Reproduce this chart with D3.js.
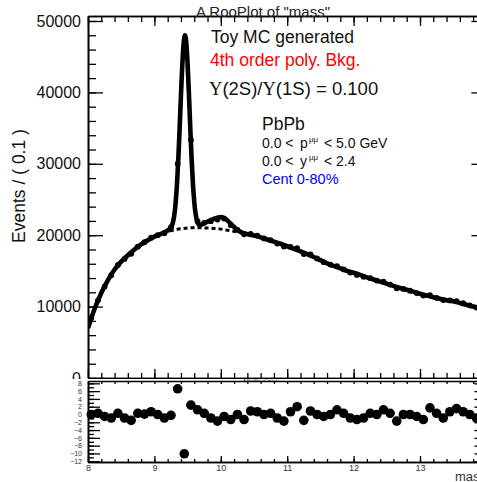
<!DOCTYPE html>
<html>
<head>
<meta charset="utf-8">
<script src="https://cdn.jsdelivr.net/npm/d3@7"></script>
<style>
  body { margin: 0; background: #fff; }
  svg { display: block; font-family: "Liberation Sans", Arial, sans-serif; }
</style>
</head>
<body>
<svg id="chart" width="477" height="482"></svg>
<script>
// bin centres (width 0.1) and toy MC counts
const massBins = [8.05, 8.15, 8.25, 8.35, 8.45, 8.55, 8.65, 8.75, 8.85, 8.95,
  9.05, 9.15, 9.25, 9.35, 9.45, 9.55, 9.65, 9.75, 9.85, 9.95,
  10.05, 10.15, 10.25, 10.35, 10.45, 10.55, 10.65, 10.75, 10.85, 10.95,
  11.05, 11.15, 11.25, 11.35, 11.45, 11.55, 11.65, 11.75, 11.85, 11.95,
  12.05, 12.15, 12.25, 12.35, 12.45, 12.55, 12.65, 12.75, 12.85, 12.95,
  13.05, 13.15, 13.25, 13.35, 13.45, 13.55, 13.65, 13.75, 13.85, 13.95];
const counts = [8450, 10880, 12790, 14390, 15840, 16680, 17400, 18390, 19010, 19650,
  20000, 20270, 21120, 30020, 45200, 33340, 21980, 21740, 21970, 22200,
  22330, 21410, 20750, 20120, 20180, 19950, 19550, 19290, 18830, 18400,
  18370, 18200, 17350, 17300, 16750, 16220, 15880, 15680, 15220, 14770,
  14440, 14170, 13990, 13650, 13490, 13080, 12560, 12480, 12230, 11900,
  11540, 11610, 11230, 10910, 10870, 10770, 10470, 10180, 9860, 9750];
const pulls = [0, 0.3, -0.5, -0.9, 0.3, -0.9, -1.5, 0.3, 0.1, 0.7,
  0, -0.9, -0.2, 6.6, -10.1, 2.4, 1.2, 0.3, -0.9, -1.7,
  -0.5, -1.3, 0, -1.3, 0.9, 0.7, 0, 0.3, -0.9, -1.7,
  0.7, 2.0, -1.5, 0.9, 0, -0.5, 0, 1.2, 0.3, -0.9,
  -1.3, -0.9, 0.3, 0, 1.2, 0.3, -1.7, 0, 0, -0.5,
  -1.3, 1.7, 0.3, -0.9, 0.7, 1.5, 0.7, 0, -0.9, 0];

// total fit curve (signal + bkg)
const totalX = [8.0, 8.1, 8.2, 8.3, 8.4, 8.5, 8.6, 8.7, 8.8, 8.9, 9.0, 9.1, 9.16, 9.22, 9.26, 9.28,
  9.30, 9.32, 9.34, 9.36, 9.38, 9.40, 9.42, 9.44, 9.46, 9.48, 9.50, 9.52, 9.54, 9.56, 9.58, 9.60,
  9.62, 9.64, 9.66, 9.70, 9.75, 9.80, 9.85, 9.90, 9.95, 10.00, 10.05, 10.10, 10.15, 10.20, 10.25,
  10.30, 10.40, 10.5, 10.6, 10.7, 10.8, 10.9, 11.0, 11.1, 11.2, 11.3, 11.4, 11.5, 11.6, 11.7, 11.8,
  11.9, 12.0, 12.1, 12.2, 12.3, 12.4, 12.5, 12.6, 12.7, 12.8, 12.9, 13.0, 13.1, 13.2, 13.3, 13.4,
  13.5, 13.6, 13.7, 13.8, 13.9, 14.0];
const totalY = [7000, 9700, 11900, 13700, 15200, 16300, 17200, 18000, 18700, 19300, 19800, 20200, 20450, 20800, 21250, 21800,
  22850, 24550, 27150, 30650, 34950, 39600, 43800, 46800, 48000, 46950, 43950, 39750, 35100, 30750, 27250, 24700,
  23050, 22050, 21550, 21450, 21700, 21900, 22100, 22300, 22450, 22550, 22400, 22050, 21600, 21150, 20750,
  20450, 20150, 19950, 19700, 19400, 19100, 18800, 18450, 18100, 17750, 17350, 16950, 16500, 16050, 15700, 15350,
  15000, 14750, 14450, 14100, 13800, 13500, 13200, 12900, 12600, 12350, 12100, 11800, 11550, 11300, 11100, 10900,
  10750, 10500, 10250, 10000, 9780, 9560];

// 4th order poly background (dashed)
const bkgX = [8.0, 8.1, 8.2, 8.3, 8.4, 8.5, 8.6, 8.7, 8.8, 8.9, 9.0, 9.1, 9.2, 9.3, 9.4, 9.5, 9.6, 9.7, 9.8, 9.9,
  10.0, 10.1, 10.2, 10.3, 10.4, 10.5, 10.6, 10.7, 10.8, 10.9, 11.0, 11.1, 11.2, 11.3, 11.4, 11.5, 11.6, 11.7, 11.8, 11.9,
  12.0, 12.1, 12.2, 12.3, 12.4, 12.5, 12.6, 12.7, 12.8, 12.9, 13.0, 13.1, 13.2, 13.3, 13.4, 13.5, 13.6, 13.7, 13.8, 13.9, 14.0];
const bkgY = [7000, 9700, 11900, 13700, 15200, 16300, 17200, 18000, 18700, 19300, 19800, 20200, 20500, 20750, 20900, 21000, 21050, 21050, 21000, 20950,
  20850, 20700, 20550, 20350, 20150, 19950, 19700, 19400, 19100, 18800, 18450, 18100, 17750, 17350, 16950, 16500, 16050, 15700, 15350, 15000,
  14750, 14450, 14100, 13800, 13500, 13200, 12900, 12600, 12350, 12100, 11800, 11550, 11300, 11100, 10900, 10750, 10500, 10250, 10000, 9780, 9560];

const yTicks = [0, 10000, 20000, 30000, 40000, 50000];
const pullTicks = [8, 6, 4, 2, 0, -2, -4, -6, -8, -10, -12];
const massTicks = [8, 9, 10, 11, 12, 13];

const svg = d3.select("#chart");

// scales
const x = d3.scaleLinear().domain([8, 14]).range([88, 486.4]);
const y = d3.scaleLinear().domain([0, 50700]).range([378, 16]);
const yp = d3.scaleLinear().domain([-12.2, 8.6]).range([462, 381]);

function styleAxis(g, w) {
  g.selectAll("path.domain").attr("stroke", "#000").attr("stroke-width", w || 1.6);
  g.selectAll(".tick line").attr("stroke", "#000").attr("stroke-width", 1.3);
}

// ---- main pad ----
const main = svg.append("g");

main.append("defs").append("clipPath").attr("id", "mainclip")
  .append("rect").attr("x", 88).attr("y", 16).attr("width", 398.4).attr("height", 362);

// axes
const minorY = d3.range(0, 50701, 2000);
const minorX = d3.range(8, 14.001, 0.2);

main.append("g").attr("transform", "translate(88,0)")
  .call(d3.axisLeft(y).tickValues(minorY).tickSizeInner(-8).tickSizeOuter(0).tickFormat(""))
  .call(g => styleAxis(g));
const yAx = main.append("g").attr("transform", "translate(88,0)")
  .call(d3.axisLeft(y).tickValues(yTicks).tickSizeInner(-15).tickSizeOuter(0).tickPadding(7).tickFormat(d3.format("d")));
styleAxis(yAx);
yAx.selectAll("text").attr("font-size", 16).attr("fill", "#111")
  .attr("font-family", "Liberation Sans, Arial, sans-serif");

main.append("g").attr("transform", "translate(486.4,0)")
  .call(d3.axisRight(y).tickValues(minorY).tickSizeInner(-8).tickSizeOuter(0).tickFormat(""))
  .call(g => styleAxis(g));
main.append("g").attr("transform", "translate(486.4,0)")
  .call(d3.axisRight(y).tickValues(yTicks).tickSizeInner(-15).tickSizeOuter(0).tickFormat(""))
  .call(g => styleAxis(g));

main.append("g").attr("transform", "translate(0,16)")
  .call(d3.axisTop(x).tickValues(minorX).tickSizeInner(-6).tickSizeOuter(0).tickFormat(""))
  .call(g => styleAxis(g));
main.append("g").attr("transform", "translate(0,16)")
  .call(d3.axisTop(x).tickValues(massTicks).tickSizeInner(-10).tickSizeOuter(0).tickFormat(""))
  .call(g => styleAxis(g));
main.append("g").attr("transform", "translate(0,378)")
  .call(d3.axisBottom(x).tickValues(minorX).tickSizeInner(-5).tickSizeOuter(0).tickFormat(""))
  .call(g => styleAxis(g));
main.append("g").attr("transform", "translate(0,378)")
  .call(d3.axisBottom(x).tickValues(massTicks).tickSizeInner(-9).tickSizeOuter(0).tickFormat(""))
  .call(g => styleAxis(g));

// title and axis label
svg.append("text").attr("x", 263).attr("y", 16.5).attr("text-anchor", "middle")
  .attr("font-size", 15).attr("fill", "#222").text('A RooPlot of "mass"');
svg.append("text").attr("transform", "translate(25,186) rotate(-90)")
  .attr("text-anchor", "middle").attr("font-size", 17.5).attr("fill", "#111")
  .text("Events / ( 0.1 )");

const plot = main.append("g").attr("clip-path", "url(#mainclip)");

// data points
const pts = plot.selectAll(".pt").data(massBins).enter().append("g");
pts.append("line")
  .attr("x1", d => x(d)).attr("x2", d => x(d))
  .attr("y1", (d, i) => y(counts[i] + Math.sqrt(counts[i])))
  .attr("y2", (d, i) => y(counts[i] - Math.sqrt(counts[i])))
  .attr("stroke", "#000").attr("stroke-width", 1);
pts.append("circle")
  .attr("cx", d => x(d)).attr("cy", (d, i) => y(counts[i]))
  .attr("r", 2.9).attr("fill", "#000");

// curves
const line = d3.line().x(d => x(d[0])).y(d => y(d[1])).curve(d3.curveMonotoneX);
plot.append("path").datum(totalX.map((v, i) => [v, totalY[i]]))
  .attr("d", line).attr("fill", "none").attr("stroke", "#000")
  .attr("stroke-width", 4.6).attr("stroke-linejoin", "round");
plot.append("path").datum(bkgX.map((v, i) => [v, bkgY[i]]))
  .attr("d", line).attr("fill", "none").attr("stroke", "#000")
  .attr("stroke-width", 3).attr("stroke-dasharray", "4,3");

// labels in the plot
const lab = svg.append("g");
lab.append("text").attr("x", 211).attr("y", 43).attr("font-size", 17.5).attr("fill", "#111")
  .text("Toy MC generated");
lab.append("text").attr("x", 210).attr("y", 66).attr("font-size", 17.5).attr("fill", "#ff0000")
  .text("4th order poly. Bkg.");
const ups = lab.append("text").attr("x", 209).attr("y", 95).attr("font-size", 18.5).attr("fill", "#111");
ups.append("tspan").attr("font-family", "Liberation Serif, serif").text("Υ");
ups.append("tspan").text("(2S)/");
ups.append("tspan").attr("font-family", "Liberation Serif, serif").text("Υ");
ups.append("tspan").text("(1S) = 0.100");

lab.append("text").attr("x", 262).attr("y", 130).attr("font-size", 17.5).attr("fill", "#111").text("PbPb");
const ptl = lab.append("text").attr("x", 262).attr("y", 148).attr("font-size", 14).attr("fill", "#111");
ptl.append("tspan").text("0.0 <");
ptl.append("tspan").attr("x", 300).text("p");
ptl.append("tspan").attr("x", 309).attr("dy", -6).attr("font-size", 8).text("μμ");
ptl.append("tspan").attr("x", 324).attr("dy", 6).text("< 5.0 GeV");
const yl = lab.append("text").attr("x", 262).attr("y", 166).attr("font-size", 14).attr("fill", "#111");
yl.append("tspan").text("0.0 <");
yl.append("tspan").attr("x", 300).text("y");
yl.append("tspan").attr("x", 309).attr("dy", -6).attr("font-size", 8).text("μμ");
yl.append("tspan").attr("x", 324).attr("dy", 6).text("< 2.4");
lab.append("text").attr("x", 262).attr("y", 184).attr("font-size", 14.5).attr("fill", "#0000ff")
  .text("Cent 0-80%");

// ---- pull pad ----
const pp = svg.append("g");
pp.append("rect").attr("x", 0).attr("y", 379).attr("width", 477).attr("height", 103).attr("fill", "#fff");
pp.append("text").attr("x", 261).attr("y", 381.5).attr("text-anchor", "middle")
  .attr("font-size", 4).attr("fill", "#333").text('A RooPlot of "mass"');

const minorP = d3.range(-12, 8.001, 1);
pp.append("g").attr("transform", "translate(88,0)")
  .call(d3.axisLeft(yp).tickValues(minorP).tickSizeInner(-6).tickSizeOuter(0).tickFormat(""))
  .call(g => styleAxis(g));
const pAx = pp.append("g").attr("transform", "translate(88,0)")
  .call(d3.axisLeft(yp).tickValues(pullTicks).tickSizeInner(-12).tickSizeOuter(0).tickPadding(6).tickFormat(d3.format("d")));
styleAxis(pAx);
pAx.selectAll("text").attr("font-size", 7).attr("fill", "#333")
  .attr("font-family", "Liberation Sans, Arial, sans-serif");
pp.append("g").attr("transform", "translate(486.4,0)")
  .call(d3.axisRight(yp).tickValues(pullTicks).tickSizeInner(-12).tickSizeOuter(0).tickFormat(""))
  .call(g => styleAxis(g));

pp.append("g").attr("transform", "translate(0,381)")
  .call(d3.axisTop(x).tickValues(minorX).tickSizeInner(-3).tickSizeOuter(0).tickFormat(""))
  .call(g => styleAxis(g));
const pxAx = pp.append("g").attr("transform", "translate(0,462)")
  .call(d3.axisBottom(x).tickValues(minorX).tickSizeInner(-3).tickSizeOuter(0).tickFormat(""));
styleAxis(pxAx);
const pxMaj = pp.append("g").attr("transform", "translate(0,462)")
  .call(d3.axisBottom(x).tickValues(massTicks).tickSizeInner(-6).tickSizeOuter(0).tickPadding(3).tickFormat(d3.format("d")));
styleAxis(pxMaj);
pxMaj.selectAll("text").attr("font-size", 9).attr("fill", "#333")
  .attr("font-family", "Liberation Sans, Arial, sans-serif");

pp.append("text").attr("x", 486).attr("y", 481).attr("text-anchor", "end")
  .attr("font-size", 13).attr("fill", "#333").text("mass");

// pull points
const pg = pp.selectAll(".pull").data(massBins).enter().append("g");
pg.append("line")
  .attr("x1", d => x(d)).attr("x2", d => x(d))
  .attr("y1", (d, i) => yp(pulls[i] + 1)).attr("y2", (d, i) => yp(pulls[i] - 1))
  .attr("stroke", "#000").attr("stroke-width", 1);
pg.append("circle")
  .attr("cx", d => x(d)).attr("cy", (d, i) => yp(pulls[i]))
  .attr("r", 4.8).attr("fill", "#000");
</script>
</body>
</html>
